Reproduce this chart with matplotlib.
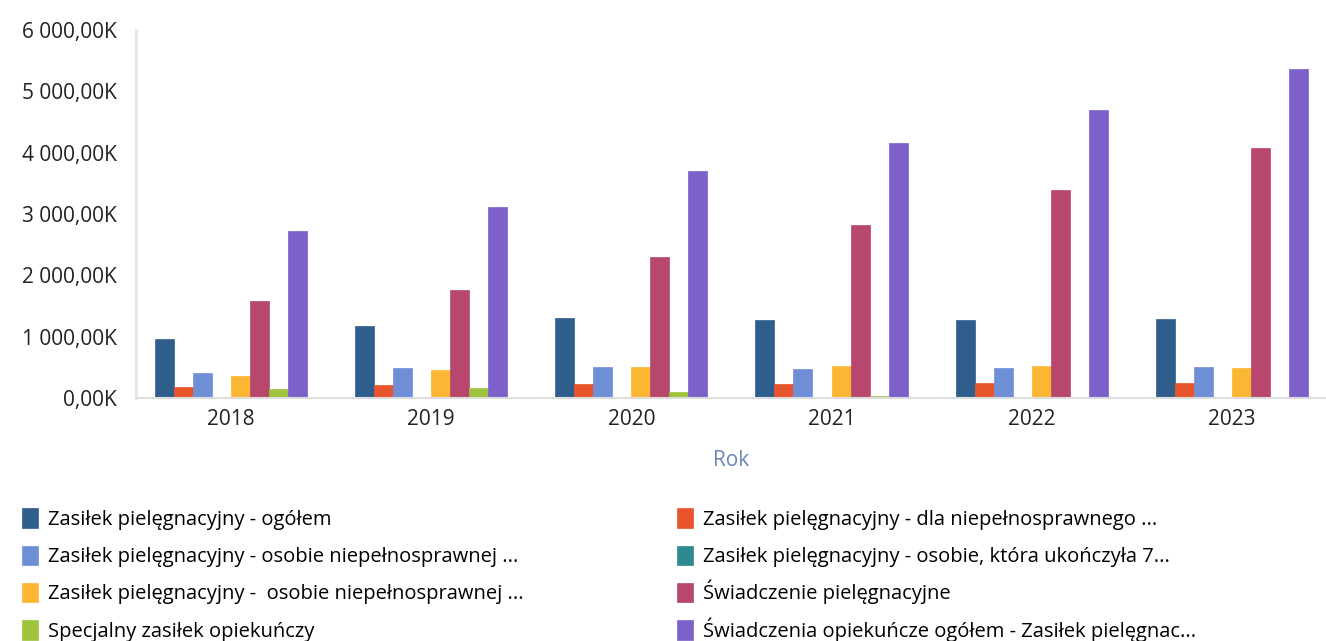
import matplotlib.pyplot as plt
import numpy as np
from matplotlib.patches import Rectangle
from matplotlib.legend_handler import HandlerPatch

years = ['2018', '2019', '2020', '2021', '2022', '2023']

series_names = [
    'Zasiłek pielęgnacyjny - ogółem',
    'Zasiłek pielęgnacyjny - dla niepełnosprawnego ...',
    'Zasiłek pielęgnacyjny - osobie niepełnosprawnej ...',
    'Zasiłek pielęgnacyjny - osobie, która ukończyła 7...',
    'Zasiłek pielęgnacyjny -  osobie niepełnosprawnej ...',
    'Świadczenie pielęgnacyjne',
    'Specjalny zasiłek opiekuńczy',
    'Świadczenia opiekuńcze ogółem - Zasiłek pielęgnac...',
]

# values in thousands
ogolem = [960, 1170, 1300, 1270, 1270, 1290]
dla_niepelnosprawnego = [180, 210, 225, 230, 240, 245]
osobie_niepelnosprawnej_1 = [405, 490, 505, 480, 490, 505]
osobie_75 = [0, 0, 0, 0, 0, 0]
osobie_niepelnosprawnej_2 = [360, 455, 505, 520, 520, 490]
swiadczenie_piel = [1580, 1760, 2300, 2820, 3390, 4070]
specjalny = [145, 160, 95, 30, 0, 0]
swiadczenia_ogolem = [2720, 3110, 3700, 4150, 4690, 5370]

colors = ['#2f5d8c', '#e8552c', '#6e8ed6', '#2e8a8c',
          '#fbb634', '#b8476e', '#9dc43c', '#7b61c9']

all_values = [ogolem, dla_niepelnosprawnego, osobie_niepelnosprawnej_1, osobie_75,
              osobie_niepelnosprawnej_2, swiadczenie_piel, specjalny, swiadczenia_ogolem]

plt.rcParams['font.family'] = ['Open Sans', 'DejaVu Sans']

fig = plt.figure(figsize=(13.26, 6.41), dpi=100)
ax = fig.add_axes([136 / 1326, 1 - 398 / 641, 1 - 136 / 1326, (398 - 30) / 641])

x = np.arange(len(years))
w = 0.095
handles = []
for i, (vals, c) in enumerate(zip(all_values, colors)):
    h = ax.bar(x + (i - 3.5) * w, vals, w, color=c, edgecolor=c, linewidth=0.5)
    handles.append(h.patches[0])

ax.set_xlim(-0.474, 5.47)
ax.set_ylim(0, 6000)
ax.set_yticks(np.arange(0, 6001, 1000))
ax.set_yticklabels(['{:,.2f}K'.format(v).replace(',', ' ').replace('.', ',') for v in range(0, 6001, 1000)])
ax.set_xticks(x)
ax.set_xticklabels(years)
ax.tick_params(axis='both', length=0, labelsize=15, colors='#222222')
ax.tick_params(axis='y', pad=14)
ax.tick_params(axis='x', pad=8)

for s in ['top', 'right']:
    ax.spines[s].set_visible(False)
ax.spines['left'].set_color('#e6e6e6')
ax.spines['left'].set_linewidth(2)
ax.spines['bottom'].set_color('#dddddd')
ax.spines['bottom'].set_linewidth(1.5)

ax.set_xlabel('Rok', color='#6b87b8', fontsize=15, labelpad=14)


# small square marker inside a taller handle box, so all rows get the same height
def small_box(legend, orig_handle, xdescent, ydescent, width, height, fontsize):
    hh = 14
    return Rectangle((-xdescent, -ydescent + (height - hh) / 2), width, hh)


# legend is filled row by row in the reference
order = [0, 2, 4, 6, 1, 3, 5, 7]
fig.legend([handles[i] for i in order], [series_names[i] for i in order],
           handler_map={Rectangle: HandlerPatch(patch_func=small_box)},
           loc='upper left', bbox_to_anchor=(14 / 1326, 1 - 497 / 641),
           ncol=2, frameon=False, fontsize=14.5, handlelength=0.8, handleheight=1.6,
           handletextpad=0.5, columnspacing=7.6, labelspacing=0.57, borderaxespad=0)

fig.savefig('out.png', dpi=100)
